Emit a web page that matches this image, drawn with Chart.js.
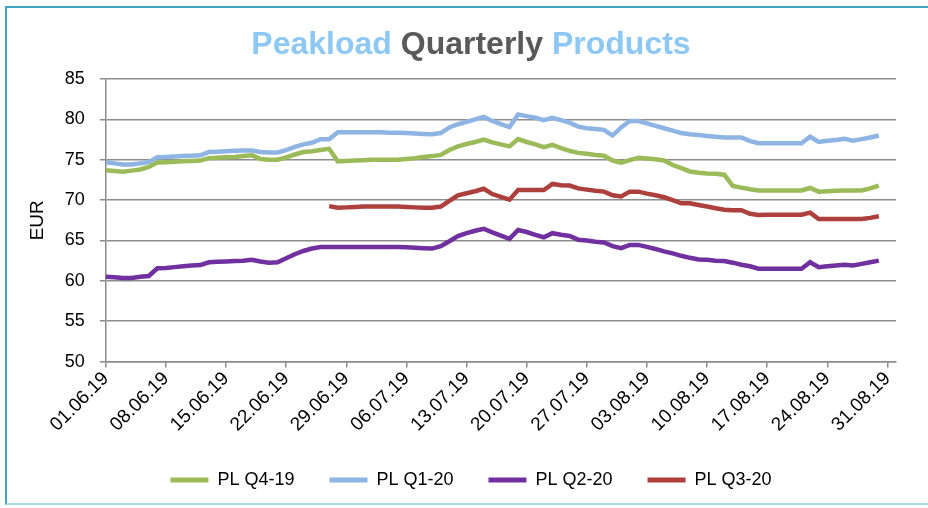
<!DOCTYPE html>
<html>
<head>
<meta charset="utf-8">
<script src="https://cdn.jsdelivr.net/npm/chart.js@4"></script>
<style>
  body { margin: 0; background: #fff; }
  #wrap { position: relative; width: 928px; height: 508px; overflow: hidden; }
  #frame {
    position: absolute; left: 5px; top: 6px; width: 960px; height: 495px;
    border-left: 2px solid #3ea6bd; border-top: 2px solid #3ea6bd;
    border-bottom: 2px solid #a9dce6; pointer-events: none;
  }
</style>
</head>
<body>
<div id="wrap">
  <canvas id="chart" width="928" height="508"></canvas>
  <div id="frame"></div>
</div>
<script>
// weekly tick labels (01.06.19 ... 31.08.19)
const tickLabels = ["01.06.19", "08.06.19", "15.06.19", "22.06.19", "29.06.19", "06.07.19", "13.07.19",
  "20.07.19", "27.07.19", "03.08.19", "10.08.19", "17.08.19", "24.08.19", "31.08.19"];

const seriesNames = ["PL Q4-19", "PL Q1-20", "PL Q2-20", "PL Q3-20"];
const seriesColors = ["#9bbb59", "#8db4e2", "#7030a0", "#ad403c"];

// daily values from 01.06.19
const plQ419 = [73.7, 73.6, 73.5, 73.65, 73.8, 74.1, 74.65, 74.7, 74.75, 74.8,
  74.85, 74.9, 75.2, 75.25, 75.3, 75.35, 75.45, 75.55, 75.1, 75.0,
  75.0, 75.3, 75.65, 75.95, 76.05, 76.2, 76.35, 74.8, 74.85, 74.9,
  74.95, 75.0, 75.0, 75.0, 75.0, 75.1, 75.2, 75.35, 75.45, 75.6,
  76.2, 76.65, 76.95, 77.2, 77.5, 77.15, 76.9, 76.65, 77.55, 77.2,
  76.9, 76.55, 76.85, 76.45, 76.1, 75.85, 75.75, 75.6, 75.5, 74.9,
  74.65, 74.95, 75.25, 75.15, 75.05, 74.9, 74.35, 73.95, 73.55, 73.4,
  73.3, 73.25, 73.15, 71.75, 71.55, 71.35, 71.2, 71.2, 71.2, 71.2,
  71.2, 71.2, 71.5, 71.05, 71.1, 71.15, 71.2, 71.2, 71.2, 71.45,
  71.8];

const plQ120 = [74.7, 74.55, 74.4, 74.4, 74.55, 74.7, 75.3, 75.35, 75.4, 75.45,
  75.5, 75.55, 75.95, 76.0, 76.05, 76.1, 76.15, 76.15, 75.95, 75.9,
  75.9, 76.2, 76.6, 76.9, 77.1, 77.55, 77.55, 78.4, 78.4, 78.4,
  78.4, 78.4, 78.4, 78.35, 78.35, 78.3, 78.25, 78.2, 78.15, 78.3,
  79.0, 79.4, 79.7, 80.0, 80.3, 79.8, 79.4, 79.05, 80.6, 80.4,
  80.2, 79.9, 80.2, 79.9, 79.6, 79.1, 78.9, 78.8, 78.7, 78.0,
  79.0, 79.8, 79.8, 79.5, 79.2, 78.9, 78.6, 78.3, 78.15, 78.05,
  77.95, 77.85, 77.75, 77.75, 77.75, 77.3, 77.05, 77.05, 77.05, 77.05,
  77.05, 77.05, 77.85, 77.2, 77.35, 77.45, 77.6, 77.35, 77.55, 77.75,
  78.0];

const plQ220 = [60.5, 60.45, 60.35, 60.35, 60.5, 60.6, 61.55, 61.6, 61.7, 61.8,
  61.9, 61.95, 62.3, 62.35, 62.4, 62.45, 62.5, 62.6, 62.4, 62.25,
  62.3, 62.8, 63.3, 63.7, 64.0, 64.2, 64.2, 64.2, 64.2, 64.2,
  64.2, 64.2, 64.2, 64.2, 64.2, 64.15, 64.1, 64.05, 64.0, 64.3,
  64.9, 65.55, 65.9, 66.2, 66.45, 66.0, 65.6, 65.2, 66.3, 66.05,
  65.7, 65.4, 65.9, 65.7, 65.55, 65.1, 65.0, 64.85, 64.75, 64.3,
  64.05, 64.45, 64.45, 64.2, 63.95, 63.65, 63.4, 63.1, 62.85, 62.65,
  62.6, 62.5, 62.45, 62.25, 62.0, 61.8, 61.5, 61.5, 61.5, 61.5,
  61.5, 61.5, 62.3, 61.7, 61.8, 61.9, 62.0, 61.9, 62.1, 62.3,
  62.5];

const plQ320 = [null, null, null, null, null, null, null, null, null, null,
  null, null, null, null, null, null, null, null, null, null,
  null, null, null, null, null, null, 69.25, 69.05, 69.1, 69.15,
  69.2, 69.2, 69.2, 69.2, 69.2, 69.15, 69.1, 69.05, 69.05, 69.2,
  69.9, 70.6, 70.85, 71.1, 71.4, 70.75, 70.4, 70.05, 71.25, 71.25,
  71.25, 71.25, 72.0, 71.85, 71.8, 71.45, 71.3, 71.15, 71.05, 70.6,
  70.45, 71.05, 71.05, 70.8, 70.6, 70.35, 70.0, 69.6, 69.6, 69.4,
  69.2, 69.0, 68.8, 68.75, 68.75, 68.3, 68.15, 68.2, 68.2, 68.2,
  68.2, 68.2, 68.45, 67.65, 67.65, 67.65, 67.65, 67.65, 67.65, 67.8,
  68.0];

const FONT = "'Liberation Sans', Arial, sans-serif";
const gridColor = "#8c8c8c";

// title with coloured words
const titlePlugin = {
  id: "colouredTitle",
  afterLayout(chart) {
    // legend sits a bit right of centre in the original
    chart.legend.left += 10;
    chart.legend.right += 10;
  },
  afterDraw(chart) {
    const ctx = chart.ctx;
    const parts = [["Peakload ", "#8dc8f4"], ["Quarterly ", "#595959"], ["Products", "#8dc8f4"]];
    ctx.save();
    ctx.font = "bold 32px " + FONT;
    ctx.textBaseline = "alphabetic";
    const total = parts.reduce((s, p) => s + ctx.measureText(p[0]).width, 0);
    let x = 471 - total / 2;
    parts.forEach((p) => {
      ctx.fillStyle = p[1];
      ctx.fillText(p[0], x, 54);
      x += ctx.measureText(p[0]).width;
    });
    ctx.restore();
  },
};

function toPoints(values) {
  return values.map((v, i) => ({ x: i, y: v }));
}

const allValues = [plQ419, plQ120, plQ220, plQ320];

new Chart(document.getElementById("chart"), {
  type: "line",
  data: {
    datasets: allValues.map((vals, k) => ({
      label: seriesNames[k],
      data: toPoints(vals),
      borderColor: seriesColors[k],
      backgroundColor: seriesColors[k],
      borderWidth: 4.5,
      pointRadius: 0,
      tension: 0,
      spanGaps: false,
    })),
  },
  options: {
    responsive: false,
    animation: false,
    devicePixelRatio: 1,
    layout: { padding: { left: 26, right: 32, top: 79, bottom: 9 } },
    plugins: {
      title: { display: false },
      tooltip: { enabled: false },
      legend: {
        position: "bottom",
        maxHeight: 74,
        labels: {
          color: "#000",
          font: { family: FONT, size: 18 },
          boxWidth: 38,
          boxHeight: 5,
          padding: 35,
          generateLabels(chart) {
            return chart.data.datasets.map((ds, i) => ({
              text: ds.label,
              fillStyle: ds.borderColor,
              strokeStyle: ds.borderColor,
              lineWidth: 0,
              fontColor: "#000",
              datasetIndex: i,
            }));
          },
        },
      },
    },
    scales: {
      x: {
        type: "linear",
        min: 0,
        max: 92,
        grid: { drawOnChartArea: false, color: gridColor, lineWidth: 1.5, tickLength: 6 },
        border: { color: gridColor, width: 1.5 },
        ticks: {
          stepSize: 7,
          includeBounds: false,
          autoSkip: false,
          maxRotation: 45,
          minRotation: 45,
          color: "#000",
          font: { family: FONT, size: 19 },
          padding: 0,
          callback: (v) => tickLabels[v / 7],
        },
      },
      y: {
        min: 50,
        max: 85,
        grid: { color: gridColor, lineWidth: 1.5, tickLength: 6 },
        border: { color: gridColor, width: 1.5 },
        ticks: {
          stepSize: 5,
          color: "#000",
          font: { family: FONT, size: 18 },
          padding: 15,
        },
        title: {
          display: true,
          text: "EUR",
          color: "#000",
          font: { family: FONT, size: 19 },
          padding: { top: 0, bottom: 1 },
        },
      },
    },
  },
  plugins: [titlePlugin],
});
</script>
</body>
</html>
